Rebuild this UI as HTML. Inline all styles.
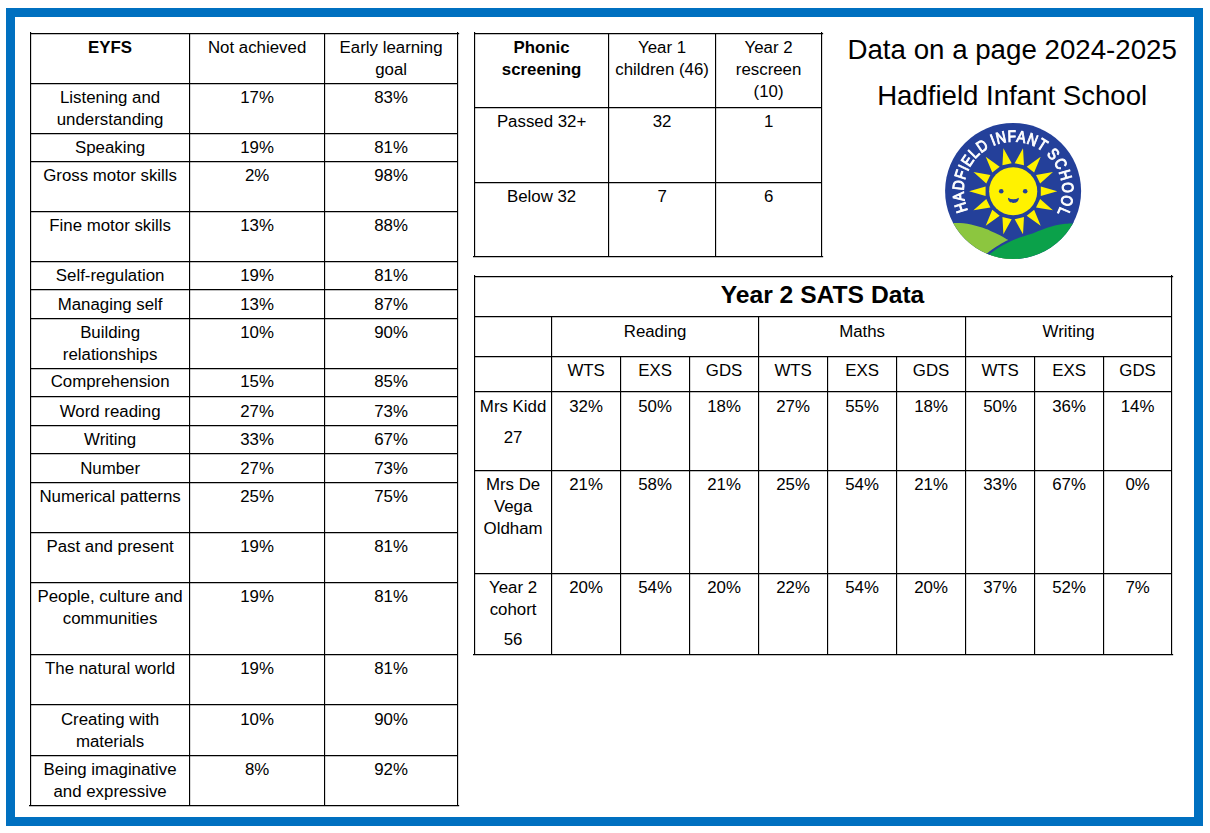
<!DOCTYPE html>
<html lang="en">
<head>
<meta charset="utf-8">
<title>Data on a page 2024-2025 - Hadfield Infant School</title>
<style>
html,body{margin:0;padding:0;background:#fff;}
body{width:1210px;height:833px;position:relative;overflow:hidden;font-family:"Liberation Sans",sans-serif;color:#000;}
#frame{position:absolute;left:6px;top:8px;width:1179px;height:800px;border:9px solid #0070c0;}
svg{position:absolute;left:0;top:0;}
.c{position:absolute;width:0;white-space:nowrap;font-size:16.85px;line-height:22px;}
.c span{position:absolute;transform:translateX(-50%);display:block;}
.b{font-weight:bold;}
.h{font-weight:bold;font-size:24.65px;}
.t{font-size:27.7px;}
.t2{font-size:27.6px;}
</style>
</head>
<body>
<div id="frame"></div>
<svg width="1210" height="833" viewBox="0 0 1210 833">
<path d="M30,33h429.15v1.15h-429.15zM30,83h428.15v1.15h-428.15zM30,133h428.15v1.15h-428.15zM30,161h428.15v1.15h-428.15zM30,211h428.15v1.15h-428.15zM30,261h428.15v1.15h-428.15zM30,289h428.15v1.15h-428.15zM30,318h428.15v1.15h-428.15zM30,368h428.15v1.15h-428.15zM30,396h428.15v1.15h-428.15zM30,425h428.15v1.15h-428.15zM30,453h428.15v1.15h-428.15zM30,482h428.15v1.15h-428.15zM30,532h428.15v1.15h-428.15zM30,582h428.15v1.15h-428.15zM30,654h428.15v1.15h-428.15zM30,704h428.15v1.15h-428.15zM30,755h428.15v1.15h-428.15zM29,805h430.15v1.15h-430.15zM30,32h1.15v774.15h-1.15zM189,33h1.15v773.15h-1.15zM324,33h1.15v773.15h-1.15zM457,32h1.15v774.15h-1.15zM474,33h349.15v1.15h-349.15zM474,107h348.15v1.15h-348.15zM474,182h348.15v1.15h-348.15zM473,256h350.15v1.15h-350.15zM474,32h1.15v225.15h-1.15zM608,33h1.15v224.15h-1.15zM715,33h1.15v224.15h-1.15zM821,32h1.15v225.15h-1.15zM474,276h699.15v1.15h-699.15zM474,316h698.15v1.15h-698.15zM474,356h698.15v1.15h-698.15zM474,391h698.15v1.15h-698.15zM474,470h698.15v1.15h-698.15zM474,573h698.15v1.15h-698.15zM473,654h700.15v1.15h-700.15zM474,275h1.15v380.15h-1.15zM1171,275h1.15v380.15h-1.15zM551,316h1.15v339.15h-1.15zM758,316h1.15v339.15h-1.15zM965,316h1.15v339.15h-1.15zM620,356h1.15v299.15h-1.15zM689,356h1.15v299.15h-1.15zM827,356h1.15v299.15h-1.15zM896,356h1.15v299.15h-1.15zM1034,356h1.15v299.15h-1.15zM1103,356h1.15v299.15h-1.15z" fill="#000"/>
</svg>
<div class="c b" style="left:110.1px;top:0"><span style="top:37.16px;line-height:22px">EYFS</span></div>
<div class="c " style="left:257.1px;top:0"><span style="top:37.16px;line-height:22px">Not achieved</span></div>
<div class="c " style="left:391.1px;top:0"><span style="top:37.16px;line-height:22px">Early learning</span><span style="top:59.16px;line-height:22px">goal</span></div>
<div class="c " style="left:110.1px;top:0"><span style="top:87.16px;line-height:22px">Listening and</span><span style="top:109.16px;line-height:22px">understanding</span></div>
<div class="c " style="left:257.1px;top:0"><span style="top:87.16px;line-height:22px">17%</span></div>
<div class="c " style="left:391.1px;top:0"><span style="top:87.16px;line-height:22px">83%</span></div>
<div class="c " style="left:110.1px;top:0"><span style="top:137.16px;line-height:22px">Speaking</span></div>
<div class="c " style="left:257.1px;top:0"><span style="top:137.16px;line-height:22px">19%</span></div>
<div class="c " style="left:391.1px;top:0"><span style="top:137.16px;line-height:22px">81%</span></div>
<div class="c " style="left:110.1px;top:0"><span style="top:165.16px;line-height:22px">Gross motor skills</span></div>
<div class="c " style="left:257.1px;top:0"><span style="top:165.16px;line-height:22px">2%</span></div>
<div class="c " style="left:391.1px;top:0"><span style="top:165.16px;line-height:22px">98%</span></div>
<div class="c " style="left:110.1px;top:0"><span style="top:215.16px;line-height:22px">Fine motor skills</span></div>
<div class="c " style="left:257.1px;top:0"><span style="top:215.16px;line-height:22px">13%</span></div>
<div class="c " style="left:391.1px;top:0"><span style="top:215.16px;line-height:22px">88%</span></div>
<div class="c " style="left:110.1px;top:0"><span style="top:264.66px;line-height:22px">Self-regulation</span></div>
<div class="c " style="left:257.1px;top:0"><span style="top:264.66px;line-height:22px">19%</span></div>
<div class="c " style="left:391.1px;top:0"><span style="top:264.66px;line-height:22px">81%</span></div>
<div class="c " style="left:110.1px;top:0"><span style="top:294.16px;line-height:22px">Managing self</span></div>
<div class="c " style="left:257.1px;top:0"><span style="top:294.16px;line-height:22px">13%</span></div>
<div class="c " style="left:391.1px;top:0"><span style="top:294.16px;line-height:22px">87%</span></div>
<div class="c " style="left:110.1px;top:0"><span style="top:322.16px;line-height:22px">Building</span><span style="top:344.16px;line-height:22px">relationships</span></div>
<div class="c " style="left:257.1px;top:0"><span style="top:322.16px;line-height:22px">10%</span></div>
<div class="c " style="left:391.1px;top:0"><span style="top:322.16px;line-height:22px">90%</span></div>
<div class="c " style="left:110.1px;top:0"><span style="top:371.16px;line-height:22px">Comprehension</span></div>
<div class="c " style="left:257.1px;top:0"><span style="top:371.16px;line-height:22px">15%</span></div>
<div class="c " style="left:391.1px;top:0"><span style="top:371.16px;line-height:22px">85%</span></div>
<div class="c " style="left:110.1px;top:0"><span style="top:401.16px;line-height:22px">Word reading</span></div>
<div class="c " style="left:257.1px;top:0"><span style="top:401.16px;line-height:22px">27%</span></div>
<div class="c " style="left:391.1px;top:0"><span style="top:401.16px;line-height:22px">73%</span></div>
<div class="c " style="left:110.1px;top:0"><span style="top:429.16px;line-height:22px">Writing</span></div>
<div class="c " style="left:257.1px;top:0"><span style="top:429.16px;line-height:22px">33%</span></div>
<div class="c " style="left:391.1px;top:0"><span style="top:429.16px;line-height:22px">67%</span></div>
<div class="c " style="left:110.1px;top:0"><span style="top:458.16px;line-height:22px">Number</span></div>
<div class="c " style="left:257.1px;top:0"><span style="top:458.16px;line-height:22px">27%</span></div>
<div class="c " style="left:391.1px;top:0"><span style="top:458.16px;line-height:22px">73%</span></div>
<div class="c " style="left:110.1px;top:0"><span style="top:486.16px;line-height:22px">Numerical patterns</span></div>
<div class="c " style="left:257.1px;top:0"><span style="top:486.16px;line-height:22px">25%</span></div>
<div class="c " style="left:391.1px;top:0"><span style="top:486.16px;line-height:22px">75%</span></div>
<div class="c " style="left:110.1px;top:0"><span style="top:536.16px;line-height:22px">Past and present</span></div>
<div class="c " style="left:257.1px;top:0"><span style="top:536.16px;line-height:22px">19%</span></div>
<div class="c " style="left:391.1px;top:0"><span style="top:536.16px;line-height:22px">81%</span></div>
<div class="c " style="left:110.1px;top:0"><span style="top:586.16px;line-height:22px">People, culture and</span><span style="top:608.16px;line-height:22px">communities</span></div>
<div class="c " style="left:257.1px;top:0"><span style="top:586.16px;line-height:22px">19%</span></div>
<div class="c " style="left:391.1px;top:0"><span style="top:586.16px;line-height:22px">81%</span></div>
<div class="c " style="left:110.1px;top:0"><span style="top:657.66px;line-height:22px">The natural world</span></div>
<div class="c " style="left:257.1px;top:0"><span style="top:657.66px;line-height:22px">19%</span></div>
<div class="c " style="left:391.1px;top:0"><span style="top:657.66px;line-height:22px">81%</span></div>
<div class="c " style="left:110.1px;top:0"><span style="top:709.16px;line-height:22px">Creating with</span><span style="top:731.16px;line-height:22px">materials</span></div>
<div class="c " style="left:257.1px;top:0"><span style="top:709.16px;line-height:22px">10%</span></div>
<div class="c " style="left:391.1px;top:0"><span style="top:709.16px;line-height:22px">90%</span></div>
<div class="c " style="left:110.1px;top:0"><span style="top:759.16px;line-height:22px">Being imaginative</span><span style="top:781.16px;line-height:22px">and expressive</span></div>
<div class="c " style="left:257.1px;top:0"><span style="top:759.16px;line-height:22px">8%</span></div>
<div class="c " style="left:391.1px;top:0"><span style="top:759.16px;line-height:22px">92%</span></div>
<div class="c b" style="left:541.6px;top:0"><span style="top:37.16px;line-height:22px">Phonic</span><span style="top:59.16px;line-height:22px">screening</span></div>
<div class="c " style="left:662.1px;top:0"><span style="top:37.16px;line-height:22px">Year 1</span><span style="top:59.16px;line-height:22px">children (46)</span></div>
<div class="c " style="left:768.6px;top:0"><span style="top:37.16px;line-height:22px">Year 2</span><span style="top:59.16px;line-height:22px">rescreen</span><span style="top:81.16px;line-height:22px">(10)</span></div>
<div class="c " style="left:541.6px;top:0"><span style="top:110.66px;line-height:22px">Passed 32+</span></div>
<div class="c " style="left:662.1px;top:0"><span style="top:110.66px;line-height:22px">32</span></div>
<div class="c " style="left:768.6px;top:0"><span style="top:110.66px;line-height:22px">1</span></div>
<div class="c " style="left:541.6px;top:0"><span style="top:185.66px;line-height:22px">Below 32</span></div>
<div class="c " style="left:662.1px;top:0"><span style="top:185.66px;line-height:22px">7</span></div>
<div class="c " style="left:768.6px;top:0"><span style="top:185.66px;line-height:22px">6</span></div>
<div class="c h" style="left:822.5px;top:0"><span style="top:280.16px;line-height:30px">Year 2 SATS Data</span></div>
<div class="c " style="left:655.1px;top:0"><span style="top:321.16px;line-height:22px">Reading</span></div>
<div class="c " style="left:862.1px;top:0"><span style="top:321.16px;line-height:22px">Maths</span></div>
<div class="c " style="left:1068.6px;top:0"><span style="top:321.16px;line-height:22px">Writing</span></div>
<div class="c " style="left:586.1px;top:0"><span style="top:360.16px;line-height:22px">WTS</span></div>
<div class="c " style="left:655.1px;top:0"><span style="top:360.16px;line-height:22px">EXS</span></div>
<div class="c " style="left:724.1px;top:0"><span style="top:360.16px;line-height:22px">GDS</span></div>
<div class="c " style="left:793.1px;top:0"><span style="top:360.16px;line-height:22px">WTS</span></div>
<div class="c " style="left:862.1px;top:0"><span style="top:360.16px;line-height:22px">EXS</span></div>
<div class="c " style="left:931.1px;top:0"><span style="top:360.16px;line-height:22px">GDS</span></div>
<div class="c " style="left:1000.1px;top:0"><span style="top:360.16px;line-height:22px">WTS</span></div>
<div class="c " style="left:1069.1px;top:0"><span style="top:360.16px;line-height:22px">EXS</span></div>
<div class="c " style="left:1137.6px;top:0"><span style="top:360.16px;line-height:22px">GDS</span></div>
<div class="c " style="left:513.1px;top:0"><span style="top:396.16px;line-height:22px">Mrs Kidd</span><span style="top:427.16px;line-height:22px">27</span></div>
<div class="c " style="left:586.1px;top:0"><span style="top:396.16px;line-height:22px">32%</span></div>
<div class="c " style="left:655.1px;top:0"><span style="top:396.16px;line-height:22px">50%</span></div>
<div class="c " style="left:724.1px;top:0"><span style="top:396.16px;line-height:22px">18%</span></div>
<div class="c " style="left:793.1px;top:0"><span style="top:396.16px;line-height:22px">27%</span></div>
<div class="c " style="left:862.1px;top:0"><span style="top:396.16px;line-height:22px">55%</span></div>
<div class="c " style="left:931.1px;top:0"><span style="top:396.16px;line-height:22px">18%</span></div>
<div class="c " style="left:1000.1px;top:0"><span style="top:396.16px;line-height:22px">50%</span></div>
<div class="c " style="left:1069.1px;top:0"><span style="top:396.16px;line-height:22px">36%</span></div>
<div class="c " style="left:1137.6px;top:0"><span style="top:396.16px;line-height:22px">14%</span></div>
<div class="c " style="left:513.1px;top:0"><span style="top:474.16px;line-height:22px">Mrs De</span><span style="top:496.16px;line-height:22px">Vega</span><span style="top:517.86px;line-height:22px">Oldham</span></div>
<div class="c " style="left:586.1px;top:0"><span style="top:474.16px;line-height:22px">21%</span></div>
<div class="c " style="left:655.1px;top:0"><span style="top:474.16px;line-height:22px">58%</span></div>
<div class="c " style="left:724.1px;top:0"><span style="top:474.16px;line-height:22px">21%</span></div>
<div class="c " style="left:793.1px;top:0"><span style="top:474.16px;line-height:22px">25%</span></div>
<div class="c " style="left:862.1px;top:0"><span style="top:474.16px;line-height:22px">54%</span></div>
<div class="c " style="left:931.1px;top:0"><span style="top:474.16px;line-height:22px">21%</span></div>
<div class="c " style="left:1000.1px;top:0"><span style="top:474.16px;line-height:22px">33%</span></div>
<div class="c " style="left:1069.1px;top:0"><span style="top:474.16px;line-height:22px">67%</span></div>
<div class="c " style="left:1137.6px;top:0"><span style="top:474.16px;line-height:22px">0%</span></div>
<div class="c " style="left:513.1px;top:0"><span style="top:577.16px;line-height:22px">Year 2</span><span style="top:598.86px;line-height:22px">cohort</span><span style="top:629.16px;line-height:22px">56</span></div>
<div class="c " style="left:586.1px;top:0"><span style="top:577.16px;line-height:22px">20%</span></div>
<div class="c " style="left:655.1px;top:0"><span style="top:577.16px;line-height:22px">54%</span></div>
<div class="c " style="left:724.1px;top:0"><span style="top:577.16px;line-height:22px">20%</span></div>
<div class="c " style="left:793.1px;top:0"><span style="top:577.16px;line-height:22px">22%</span></div>
<div class="c " style="left:862.1px;top:0"><span style="top:577.16px;line-height:22px">54%</span></div>
<div class="c " style="left:931.1px;top:0"><span style="top:577.16px;line-height:22px">20%</span></div>
<div class="c " style="left:1000.1px;top:0"><span style="top:577.16px;line-height:22px">37%</span></div>
<div class="c " style="left:1069.1px;top:0"><span style="top:577.16px;line-height:22px">52%</span></div>
<div class="c " style="left:1137.6px;top:0"><span style="top:577.16px;line-height:22px">7%</span></div>
<div class="c t" style="left:1012.2px;top:0"><span style="top:33.30px;line-height:34px">Data on a page 2024-2025</span></div>
<div class="c t2" style="left:1012.2px;top:0"><span style="top:79.04px;line-height:34px">Hadfield Infant School</span></div>
<svg id="logo" width="150" height="150" viewBox="938 116 150 150" style="left:938px;top:116px;will-change:transform" role="img" aria-label="Hadfield Infant School logo">
<g transform="translate(1013.1,191.0)">
<clipPath id="lc"><circle r="68.0"/></clipPath>
<circle r="68.0" fill="#24409a"/>
<g clip-path="url(#lc)">
<path d="M-80.00,32.00C-76.67,32.00 -64.45,31.99 -60.00,32.00C-55.55,32.01 -55.67,31.92 -53.30,32.05C-50.93,32.18 -48.28,32.41 -45.80,32.80C-43.32,33.19 -40.87,33.77 -38.40,34.40C-35.93,35.03 -33.48,35.77 -31.00,36.60C-28.52,37.43 -25.58,38.53 -23.50,39.40C-21.42,40.27 -20.23,40.98 -18.50,41.80C-16.77,42.62 -14.85,43.40 -13.10,44.30C-11.35,45.20 -9.45,46.37 -8.00,47.20C-6.55,48.03 -6.57,48.08 -4.40,49.30C-2.23,50.52 3.43,53.63 5.00,54.50L5,90L-80,90Z" fill="#8cc63f"/>
<path d="M-30.00,67.60C-28.95,66.88 -25.65,64.63 -23.70,63.25C-21.75,61.87 -20.03,60.50 -18.30,59.30C-16.57,58.10 -14.96,57.06 -13.30,56.06C-11.64,55.06 -10.00,54.17 -8.35,53.30C-6.70,52.43 -5.05,51.64 -3.40,50.86C-1.75,50.08 -0.09,49.31 1.56,48.60C3.21,47.89 4.84,47.22 6.50,46.60C8.16,45.98 9.77,45.45 11.50,44.90C13.23,44.35 15.17,43.88 16.90,43.30C18.63,42.72 20.25,42.02 21.90,41.40C23.55,40.78 24.33,40.48 26.80,39.60C29.27,38.72 33.40,37.10 36.70,36.10C40.00,35.10 43.70,34.15 46.60,33.60C49.50,33.05 51.95,32.97 54.10,32.80C56.25,32.63 55.18,32.63 59.50,32.60C63.82,32.57 76.58,32.60 80.00,32.60L80,90L-30,90Z" fill="#0ba14a" stroke="#24409a" stroke-width="4.4" paint-order="stroke"/>
</g>
<path d="M44.20,0.20L27.70,4.95L27.70,-4.55ZM39.83,-18.93L27.03,-7.50L22.91,-16.05ZM27.60,-34.28L21.02,-18.42L13.59,-24.34ZM9.91,-42.79L10.87,-25.65L1.61,-27.76ZM-9.71,-42.79L-1.41,-27.76L-10.67,-25.65ZM-27.40,-34.28L-13.39,-24.34L-20.82,-18.42ZM-39.63,-18.93L-22.71,-16.05L-26.83,-7.50ZM-44.00,0.20L-27.50,-4.55L-27.50,4.95ZM-39.63,19.33L-26.83,7.90L-22.71,16.45ZM-27.40,34.68L-20.82,18.82L-13.39,24.74ZM-9.71,43.19L-10.67,26.05L-1.41,28.16ZM9.91,43.19L1.61,28.16L10.87,26.05ZM27.60,34.68L13.59,24.74L21.02,18.82ZM39.83,19.33L22.91,16.45L27.03,7.90Z" fill="#fff200"/>
<circle cx="0.1" cy="0.2" r="24.05" fill="#fff200"/>
<circle cx="-11.85" cy="0.25" r="2.3" fill="#24409a"/>
<circle cx="12.10" cy="0.25" r="2.3" fill="#24409a"/>
<path d="M-5.15,6.70 Q0.30,9.90 5.75,6.70 C5.75,10.20 3.30,11.90 0.30,11.90 C-2.70,11.90 -5.15,10.20 -5.15,6.70 Z" fill="#24409a"/>
<path id="arc" d="M-45.21,19.66 A49.3,49.3 0 1 1 -5.58,48.98" fill="none"/>
<text font-family="'Liberation Sans',sans-serif" font-size="16" font-weight="400" fill="#fff" stroke="#fff" stroke-width="0.95" letter-spacing="0.9" word-spacing="-1.0"><textPath href="#arc" startOffset="0" textLength="199.1" lengthAdjust="spacingAndGlyphs"><tspan letter-spacing="0.80">HADFIELD</tspan> INFANT <tspan letter-spacing="1.50">SCHOOL</tspan></textPath></text>
</g>
</svg>
</body>
</html>
